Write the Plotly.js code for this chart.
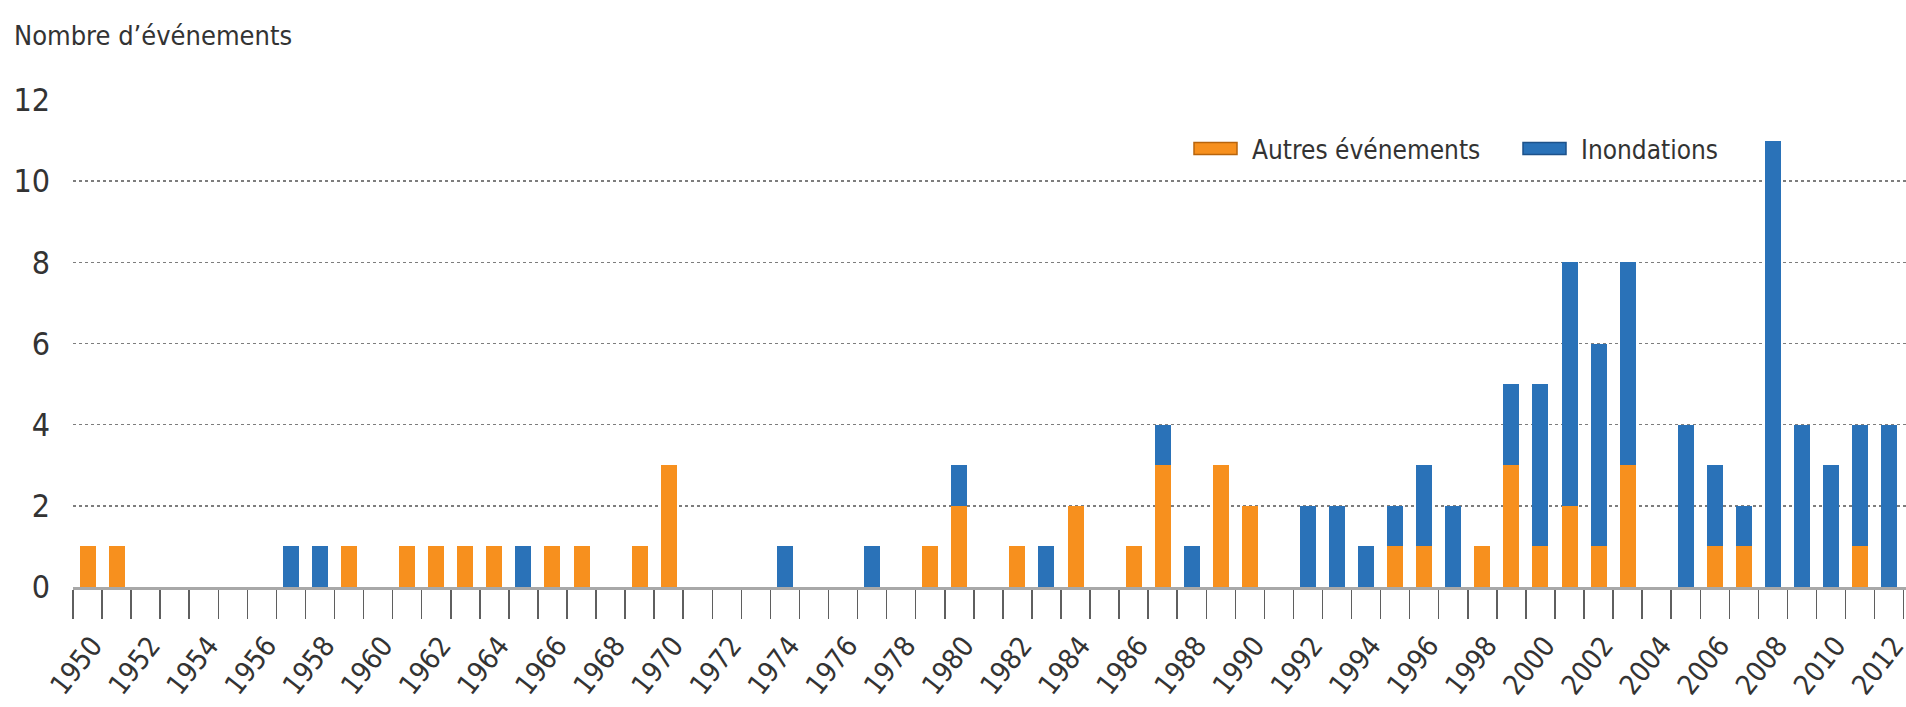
<!DOCTYPE html>
<html>
<head>
<meta charset="utf-8">
<script src="https://cdn.plot.ly/plotly-3.0.1.min.js"></script>
<style>
  html, body { margin: 0; padding: 0; background: #ffffff; overflow: hidden; }
  #chart { width: 1906px; height: 707px; }
</style>
</head>
<body>
<div id="chart"></div>
<script>
// ---- Data ----
const years = [1950, 1951, 1952, 1953, 1954, 1955, 1956, 1957, 1958, 1959,
               1960, 1961, 1962, 1963, 1964, 1965, 1966, 1967, 1968, 1969,
               1970, 1971, 1972, 1973, 1974, 1975, 1976, 1977, 1978, 1979,
               1980, 1981, 1982, 1983, 1984, 1985, 1986, 1987, 1988, 1989,
               1990, 1991, 1992, 1993, 1994, 1995, 1996, 1997, 1998, 1999,
               2000, 2001, 2002, 2003, 2004, 2005, 2006, 2007, 2008, 2009,
               2010, 2011, 2012];
const autresEvenements = [1, 1, 0, 0, 0, 0, 0, 0, 0, 1,
                          0, 1, 1, 1, 1, 0, 1, 1, 0, 1,
                          3, 0, 0, 0, 0, 0, 0, 0, 0, 1,
                          2, 0, 1, 0, 2, 0, 1, 3, 0, 3,
                          2, 0, 0, 0, 0, 1, 1, 0, 1, 3,
                          1, 2, 1, 3, 0, 0, 1, 1, 0, 0,
                          0, 1, 0];
const inondations = [0, 0, 0, 0, 0, 0, 0, 1, 1, 0,
                     0, 0, 0, 0, 0, 1, 0, 0, 0, 0,
                     0, 0, 0, 0, 1, 0, 0, 1, 0, 0,
                     1, 0, 0, 1, 0, 0, 0, 1, 1, 0,
                     0, 0, 2, 2, 1, 1, 2, 2, 0, 2,
                     4, 6, 5, 5, 0, 4, 2, 1, 11, 4,
                     3, 3, 4];
const seriesNames = ['Autres événements', 'Inondations'];
const yTitle = 'Nombre d’événements';

// ---- Styles ----
const FONT = '"Liberation Sans Narrow", "Arial Narrow", "DejaVu Sans Condensed", sans-serif';
const ORANGE = '#F7901E';
const BLUE = '#2A72B8';
const TEXT = '#333333';

const data = [
  { type: 'bar', x: years, y: autresEvenements, name: seriesNames[0],
    marker: { color: ORANGE, line: { width: 0 } }, hoverinfo: 'skip' },
  { type: 'bar', x: years, y: inondations, name: seriesNames[1],
    marker: { color: BLUE, line: { width: 0 } }, hoverinfo: 'skip' }
];

const layout = {
  width: 1906, height: 707,
  margin: { l: 73, r: 0, t: 100, b: 120, pad: 0 },
  paper_bgcolor: '#ffffff', plot_bgcolor: '#ffffff',
  barmode: 'stack', bargap: 0.45,
  font: { family: FONT, color: TEXT },
  title: {
    text: yTitle, font: { family: FONT, size: 27, color: TEXT },
    xref: 'container', x: 14 / 1906, xanchor: 'left',
    yref: 'container', y: 1 - 36 / 707, yanchor: 'middle'
  },
  showlegend: true,
  legend: {
    orientation: 'h', traceorder: 'normal',
    x: 0.62, xanchor: 'left', y: 0.95, yanchor: 'middle',
    font: { family: FONT, size: 26, color: TEXT },
    bgcolor: 'rgba(0,0,0,0)', borderwidth: 0,
    entrywidth: 300, entrywidthmode: 'pixels'
  },
  xaxis: {
    type: 'linear', range: [1949.5, 2012.58],
    tickmode: 'linear', tick0: 1950, dtick: 2,
    ticks: '', showgrid: false, zeroline: false,
    showline: true, linecolor: '#a8a8a8', linewidth: 3,
    tickangle: -52, ticklabelstandoff: 28, ticklabelshift: 5,
    ticklabeloverflow: 'allow',
    tickfont: { family: FONT, size: 28, color: TEXT },
    minor: { tick0: 1949.5, dtick: 1, ticks: 'outside', ticklen: 29,
             tickcolor: '#5f5f5f', tickwidth: 1.5, showgrid: false },
    fixedrange: true
  },
  yaxis: {
    range: [0, 12], tickmode: 'linear', tick0: 0, dtick: 2,
    showgrid: true, gridcolor: '#7d7d7d', griddash: 'dot', gridwidth: 1.5,
    zeroline: false, showline: false, ticks: '',
    ticklabelstandoff: 22,
    tickfont: { family: FONT, size: 32, color: TEXT },
    fixedrange: true
  }
};

Plotly.newPlot('chart', data, layout, { displayModeBar: false, staticPlot: true }).then(function (gd) {
  // Reference legend uses wide flat colour swatches: reshape the legend symbols.
  const leg = gd.querySelector('g.legend');
  if (!leg) return;
  leg.querySelectorAll('[clip-path]').forEach(function (e) { e.removeAttribute('clip-path'); });
  const items = leg.querySelectorAll('g.traces');
  const strokes = ['#b8640c', '#1d528a'];
  items.forEach(function (it, i) {
    const m = /translate\(\s*([-\d.]+)[ ,]+([-\d.]+)\s*\)/.exec(it.getAttribute('transform') || '');
    const ty = m ? parseFloat(m[2]) : 0;
    it.setAttribute('transform', 'translate(' + (i * 329) + ',' + ty + ')');
    const p = it.querySelector('.legendpoints path');
    if (p) {
      p.setAttribute('d', 'M0,6H43V-6H0Z');
      p.setAttribute('transform', '');
      p.style.stroke = strokes[i];
      p.style.strokeWidth = '1.5px';
    }
    const t = it.querySelector('text.legendtext');
    if (t) t.setAttribute('x', 58);
  });
  const p0 = items[0].querySelector('.legendpoints path');
  const r = p0.getBoundingClientRect();
  const lm = /translate\(\s*([-\d.]+)[ ,]+([-\d.]+)\s*\)/.exec(leg.getAttribute('transform') || '');
  const lx = lm ? parseFloat(lm[1]) : 0, ly = lm ? parseFloat(lm[2]) : 0;
  leg.setAttribute('transform', 'translate(' + (lx + 1194 - r.left) + ',' + (ly + 148.5 - (r.top + r.height / 2)) + ')');
});
</script>
</body>
</html>
